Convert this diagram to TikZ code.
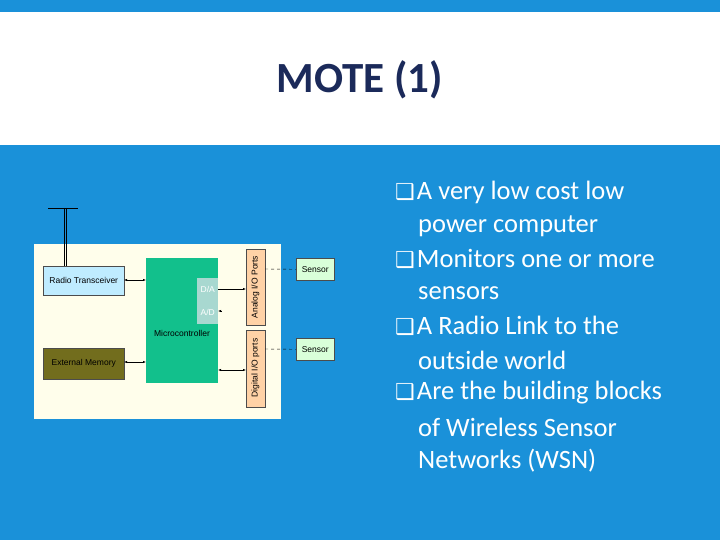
\documentclass[tikz,border=0pt]{standalone}
\usepackage{fontspec}
\setmainfont{Carlito}
\newfontfamily\dv{DejaVu Sans}
\newfontfamily\arial{Liberation Sans}
\usetikzlibrary{arrows.meta}
\definecolor{bg}{HTML}{1A91D9}
\definecolor{navy}{HTML}{1B2A5A}
\definecolor{mcg}{HTML}{12C08C}
\definecolor{adc}{HTML}{A8D8D0}
\newcommand{\bx}{{\dv\fontsize{22}{24}\selectfont ❑}\kern2pt}
\begin{document}
\begin{tikzpicture}[x=1pt,y=-1pt,
 blk/.style={draw=black!70,line width=0.5pt,inner sep=0pt,font=\arial\fontsize{8.5}{9}\selectfont},
 ar/.style={{Latex[length=3pt]}-{Latex[length=3pt]},line width=0.5pt},
 bul/.style={anchor=west,text=white,font=\fontsize{26.5}{28}\selectfont,inner sep=0pt}]
\useasboundingbox (0,0) rectangle (720,540);
\fill[bg] (0,0) rectangle (720,540);
\fill[white] (0,12) rectangle (720,145);
\node[text=navy,font=\bfseries\fontsize{43}{48}\selectfont] (title) at (360,80) {MOTE (1)};
% diagram
\node[fill=yellow!8!white,minimum width=247,minimum height=175,inner sep=0,anchor=north west] (panel) at (34,244) {};
\draw[line width=0.6pt] (48,208) -- (78,208);
\draw[line width=0.5pt] (64,208) -- (64,266) (66,208)--(66,266);
\node[blk,fill=blue!30!cyan!25,minimum width=81,minimum height=29,anchor=north west] (rt) at (43,266) {Radio Transceiver};
\node[blk,fill=olive!75!black,minimum width=81,minimum height=31,anchor=north west] (em) at (43,348) {External Memory};
\node[draw=none,fill=mcg,minimum width=72,minimum height=125,inner sep=0,anchor=north west] (mc) at (146,258) {};
\node[blk,draw=none] (mcl) at (182,333) {Microcontroller};
\node[blk,draw=none,fill=adc,text=white,minimum width=21,minimum height=23,anchor=north west] (da) at (197,278) {D/A};
\node[blk,draw=none,fill=adc,text=white,minimum width=21,minimum height=23,anchor=north west] (ad) at (197,301) {A/D};
\node[blk,fill=orange!35,minimum width=19,minimum height=76,anchor=north west] (ap) at (246,249) {};
\node[blk,draw=none,rotate=90] at (255.5,287) {Analog I/O Ports};
\node[blk,fill=orange!35,minimum width=19,minimum height=77,anchor=north west] (dp) at (246,330) {};
\node[blk,draw=none,rotate=90] at (255.5,368) {Digital I/O ports};
\node[blk,fill=green!15,minimum width=38,minimum height=22,anchor=north west] (s1) at (296,258) {Sensor};
\node[blk,fill=green!15,minimum width=38,minimum height=22,anchor=north west] (s2) at (296,338) {Sensor};
\coordinate (r1) at (124,280); \coordinate (r2) at (146,280);
\coordinate (e1) at (124,362); \coordinate (e2) at (146,362);
\coordinate (d1) at (218,289); \coordinate (d2) at (246,289);
\coordinate (a1) at (218,311); \coordinate (a2) at (222,311);
\coordinate (g1) at (218,370); \coordinate (g2) at (246,370);
\draw[ar] (r1) -- (r2);
\draw[ar] (e1) -- (e2);
\draw[-{Latex[length=3pt]},line width=0.5pt] (d1) -- (d2);
\draw[{Latex[length=3pt]}-,line width=0.5pt] (a1) -- (a2);
\draw[ar] (g1) -- (g2);
\draw[dashed,line width=0.4pt] (265,269) -- (s1.west);
\draw[dashed,line width=0.4pt] (265,349) -- (s2.west);
% bullets
\node[bul] (b1) at (395,192) {\bx A very low cost low};
\node[bul] (b1b) at (418,226) {power computer};
\node[bul] (b2) at (395,259) {\bx Monitors one or more};
\node[bul] (b2b) at (418,293) {sensors};
\node[bul] (b3) at (395,326) {\bx A Radio Link to the};
\node[bul] (b3b) at (418,360) {outside world};
\node[bul] (b4) at (395,393) {\bx Are the building blocks};
\node[bul] (b4b) at (418,427) {of Wireless Sensor};
\node[bul] (b4c) at (418,461) {Networks (WSN)};
\end{tikzpicture}
\end{document}
